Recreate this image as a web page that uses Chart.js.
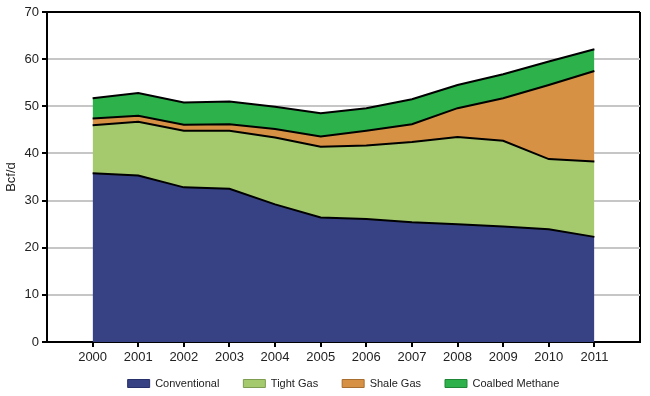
<!DOCTYPE html>
<html>
<head>
<meta charset="utf-8">
<script src="https://cdn.jsdelivr.net/npm/chart.js@4/dist/chart.umd.min.js"></script>
<style>
  html, body { margin: 0; padding: 0; background: #fff; }
  #wrap { width: 650px; height: 396px; }
</style>
</head>
<body>
<div id="wrap"><canvas id="gas-chart"></canvas></div>
<script>
const years = [2000, 2001, 2002, 2003, 2004, 2005, 2006, 2007, 2008, 2009, 2010, 2011];
const conventional = [35.8, 35.3, 32.8, 32.5, 29.2, 26.4, 26.1, 25.4, 25.0, 24.5, 23.9, 22.3];
const tightGas = [10.2, 11.4, 12.0, 12.3, 14.2, 15.0, 15.6, 17.0, 18.5, 18.2, 14.9, 16.0];
const shaleGas = [1.4, 1.3, 1.3, 1.4, 1.8, 2.2, 3.1, 3.8, 6.1, 9.0, 15.7, 19.2];
const coalbedMethane = [4.3, 4.8, 4.7, 4.8, 4.7, 4.9, 4.8, 5.3, 4.9, 5.1, 5.0, 4.6];

const seriesNames = ["Conventional", "Tight Gas", "Shale Gas", "Coalbed Methane"];
const seriesColors = ["#374284", "#a5c96d", "#d69144", "#2cb14b"];
const boxBorders = ["#27306a", "#7f9d50", "#a86e30", "#1f8537"];

const toPoints = (values) => values.map((v, i) => ({ x: years[i], y: v }));

const makeDataset = (name, values, idx) => ({
  label: name,
  data: toPoints(values),
  backgroundColor: seriesColors[idx],
  borderColor: "#000",
  borderWidth: 2,
  pointRadius: 0,
  tension: 0,
  fill: idx === 0 ? "origin" : "-1",
});

// legend padding is wide (for item spacing), so pull the legend box up
// and stretch it to the canvas bottom (legend clips to its own box)
const legendNudge = {
  id: "legendNudge",
  afterLayout(chart) {
    const lg = chart.legend;
    if (!lg) return;
    lg.top = chart.chartArea.bottom + 12;
    lg.bottom = chart.height;
    lg.height = lg.bottom - lg.top;
  },
};

const ctx = document.getElementById("gas-chart").getContext("2d");
new Chart(ctx, {
  type: "line",
  plugins: [legendNudge],
  data: {
    datasets: [
      makeDataset(seriesNames[0], conventional, 0),
      makeDataset(seriesNames[1], tightGas, 1),
      makeDataset(seriesNames[2], shaleGas, 2),
      makeDataset(seriesNames[3], coalbedMethane, 3),
    ],
  },
  options: {
    responsive: true,
    maintainAspectRatio: false,
    animation: false,
    layout: { padding: { top: 12, right: 10, bottom: 0, left: 0 } },
    font: { family: "'Liberation Sans', Arial, sans-serif" },
    scales: {
      x: {
        type: "linear",
        min: 1999,
        max: 2012,
        afterFit: (scale) => { scale.height = 28; },
        ticks: {
          stepSize: 1,
          padding: 3,
          color: "#222",
          font: { size: 13, family: "'Liberation Sans', Arial, sans-serif" },
          callback: (v) => (v < 2000 || v > 2011 ? "" : String(v)),
        },
        grid: {
          drawOnChartArea: true,
          tickLength: 5,
          lineWidth: 2,
          color: (c) => (c.tick && c.tick.value === 2012 ? "#000" : "rgba(0,0,0,0)"),
          tickColor: (c) => (c.tick && (c.tick.value < 2000 || c.tick.value > 2011) ? "rgba(0,0,0,0)" : "#000"),
        },
        border: { color: "#000", width: 2 },
      },
      y: {
        stacked: true,
        min: 0,
        max: 70,
        afterFit: (scale) => { scale.width = 47; },
        ticks: {
          stepSize: 10,
          padding: 3,
          color: "#222",
          font: { size: 13, family: "'Liberation Sans', Arial, sans-serif" },
        },
        grid: {
          tickLength: 5,
          lineWidth: 2,
          color: (c) => (c.tick && c.tick.value === 70 ? "#000" : "#c6c6c6"),
          tickColor: "#000",
        },
        border: { color: "#000", width: 2 },
        title: {
          display: true,
          text: "Bcf/d",
          color: "#222",
          padding: { top: 4, bottom: 0 },
          font: { size: 13, family: "'Liberation Sans', Arial, sans-serif" },
        },
      },
    },
    plugins: {
      tooltip: { enabled: false },
      legend: {
        position: "bottom",
        fullSize: false,
        maxHeight: 26,
        labels: {
          boxWidth: 22,
          boxHeight: 8,
          padding: 24,
          color: "#222",
          font: { size: 11, family: "'Liberation Sans', Arial, sans-serif" },
          generateLabels: (chart) =>
            chart.data.datasets.map((ds, i) => ({
              text: ds.label,
              fillStyle: seriesColors[i],
              strokeStyle: boxBorders[i],
              lineWidth: 1,
              fontColor: "#222",
              datasetIndex: i,
            })),
        },
      },
    },
  },
});
</script>
</body>
</html>
